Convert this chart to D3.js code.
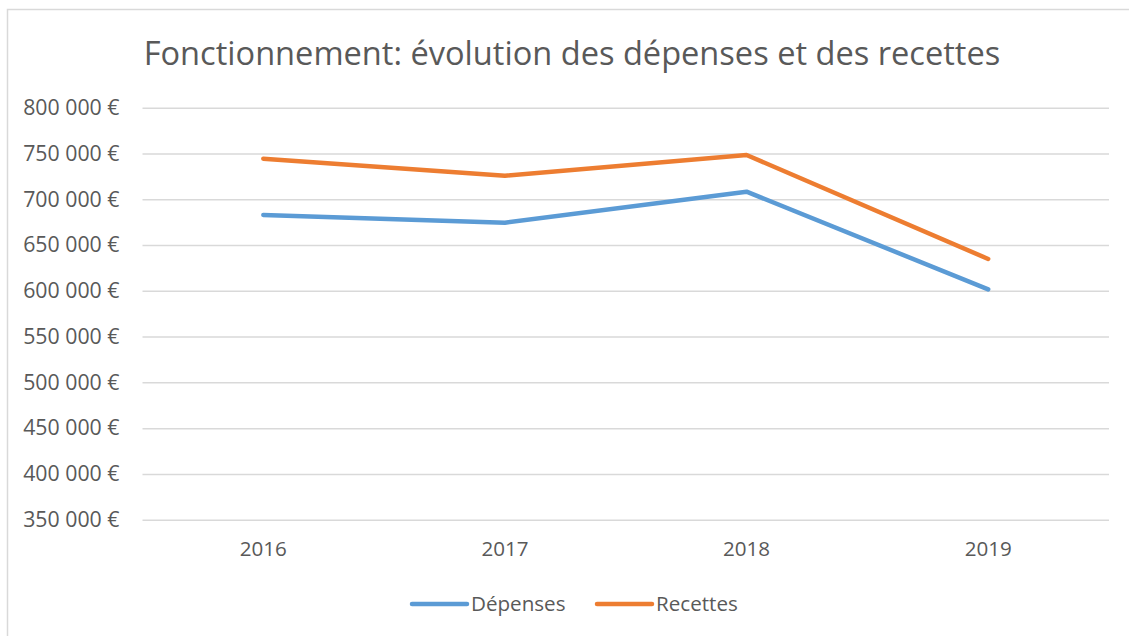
<!DOCTYPE html>
<html>
<head>
<meta charset="utf-8">
<script src="https://cdn.jsdelivr.net/npm/d3@7"></script>
<style>
  body { margin: 0; background: #fff; }
  svg { display: block; font-family: "Open Sans", sans-serif; }
</style>
</head>
<body>
<div id="chart"></div>
<script>
// chart data
const years = ["2016", "2017", "2018", "2019"];
const depenses = [682800, 674400, 708300, 601600];
const recettes = [744300, 725700, 748300, 634800];
const yTicks = [350000, 400000, 450000, 500000, 550000, 600000, 650000, 700000, 750000, 800000];
const seriesNames = ["Dépenses", "Recettes"];
const seriesColors = ["#5b9bd5", "#ed7d31"];

const W = 1129, H = 636;
const margin = { top: 107.7, right: 20, bottom: 116.3, left: 142.5 },
    width = W - margin.left - margin.right,
    height = H - margin.top - margin.bottom;

const fr = d3.formatLocale({ decimal: ",", thousands: "\u00a0", grouping: [3], currency: ["", "\u00a0€"] });
const fmt = fr.format("$,.0f");
const FONT = "'Open Sans', sans-serif";

const svg = d3.select("#chart").append("svg")
    .attr("width", W)
    .attr("height", H);

// chart border
svg.append("rect")
    .attr("x", 7.5).attr("y", 9.5)
    .attr("width", W + 20).attr("height", H + 20)
    .attr("fill", "none")
    .attr("stroke", "#d9d9d9")
    .attr("stroke-width", 1.5);

svg.append("text")
    .attr("x", 572)
    .attr("y", 65)
    .attr("text-anchor", "middle")
    .attr("fill", "#595959")
    .style("font-size", "32.6px")
    .text("Fonctionnement: évolution des dépenses et des recettes");

const g = svg.append("g").attr("transform", `translate(${margin.left},${margin.top})`);

const x = d3.scaleBand().domain(years).range([0, width]);
const y = d3.scaleLinear().domain([350000, 800000]).range([height, 0]);

// gridlines + y labels
const yAxis = g.append("g")
    .call(d3.axisLeft(y).tickValues(yTicks).tickSize(-width).tickFormat(fmt).tickPadding(23));
yAxis.select(".domain").remove();
yAxis.selectAll("line").attr("stroke", "#d9d9d9").attr("stroke-width", 1.5);
yAxis.selectAll("text").attr("fill", "#595959").style("font-size", "21.3px").style("font-family", FONT);

// x labels
const xAxis = g.append("g")
    .attr("transform", `translate(0,${height})`)
    .call(d3.axisBottom(x).tickSize(0).tickPadding(22));
xAxis.select(".domain").remove();
xAxis.selectAll("text").attr("fill", "#595959").style("font-size", "20.6px").style("font-family", FONT);

const line = d3.line()
    .x((d, i) => x(years[i]) + x.bandwidth() / 2)
    .y(d => y(d));

[depenses, recettes].forEach((vals, i) => {
    g.append("path")
        .datum(vals)
        .attr("fill", "none")
        .attr("stroke", seriesColors[i])
        .attr("stroke-width", 4.5)
        .attr("stroke-linejoin", "round")
        .attr("stroke-linecap", "round")
        .attr("d", line);
});

// legend
const legendX = [412, 597];
const legend = svg.append("g");
seriesNames.forEach((name, i) => {
    legend.append("line")
        .attr("x1", legendX[i]).attr("x2", legendX[i] + 55)
        .attr("y1", 604).attr("y2", 604)
        .attr("stroke", seriesColors[i])
        .attr("stroke-width", 4.5)
        .attr("stroke-linecap", "round");
    legend.append("text")
        .attr("x", legendX[i] + 59)
        .attr("y", 611)
        .attr("fill", "#595959")
        .style("font-size", "20.6px")
        .text(name);
});
</script>
</body>
</html>
